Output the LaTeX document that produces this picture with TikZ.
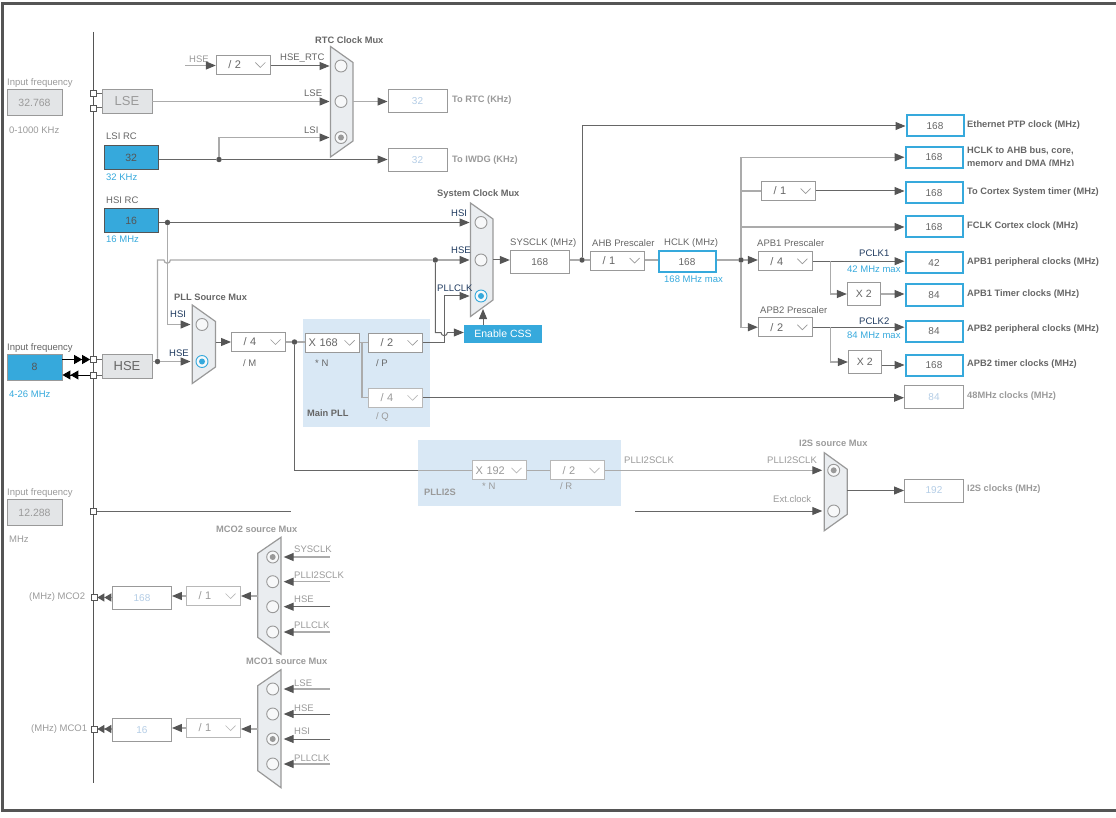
\documentclass[tikz,border=0pt]{standalone}
\usepackage{fontspec}
\setmainfont{Liberation Sans}
\usetikzlibrary{arrows.meta}

\definecolor{wiredark}{HTML}{666666}
\definecolor{wirelight}{HTML}{ABABAB}
\definecolor{tipgray}{HTML}{555555}
\definecolor{boxgray}{HTML}{999999}
\definecolor{muxfill}{HTML}{EAEDF0}
\definecolor{greyfill}{HTML}{E3E5E7}
\definecolor{clkblue}{HTML}{36A9DC}
\definecolor{pllblue}{HTML}{D9E8F5}
\definecolor{offtext}{HTML}{B4CDE6}
\definecolor{lbltext}{HTML}{666666}
\definecolor{dimtext}{HTML}{9A9A9A}
\definecolor{navytext}{HTML}{1F3A5F}

\tikzset{
  wire/.style={draw=wiredark,line width=1pt},
  wirelt/.style={draw=wirelight,line width=1.3pt},
  tip/.style={-{Triangle[length=10pt,width=8pt,color=tipgray]}},
  tiptwo/.style={-{Triangle[length=7pt,width=8pt,color=tipgray]Triangle[length=7pt,width=8pt,color=tipgray]}},
  tipblack/.style={-{Triangle[length=8pt,width=9pt,color=black]Triangle[length=8pt,width=9pt,color=black]}},
  dot/.style={circle,fill=tipgray,inner sep=0pt,minimum size=5.5pt},
  pin/.style={draw=tipgray,fill=white,inner sep=0pt,minimum size=6pt,line width=.7pt},
  lbl/.style={anchor=west,inner sep=0pt,yshift=-1pt,font=\fontsize{9.5}{11}\selectfont,text=lbltext},
  dimlbl/.style={lbl,text=dimtext},
  navylbl/.style={lbl,text=navytext},
  bluelbl/.style={lbl,text=clkblue},
  title/.style={lbl,font=\fontsize{9.3}{11}\bfseries\selectfont,text=lbltext},
  dimtitle/.style={title,text=dimtext},
  valbox/.style={draw=boxgray,fill=white,inner sep=0pt,minimum width=59pt,minimum height=23pt,line width=.9pt,font=\fontsize{10}{12}\selectfont,text=lbltext},
  outbox/.style={valbox,draw=clkblue,line width=2pt,minimum width=57pt,minimum height=21pt},
  offbox/.style={valbox,text=offtext},
  inbox/.style={draw=boxgray,fill=greyfill,inner sep=0pt,minimum width=55pt,minimum height=26pt,line width=.9pt,font=\fontsize{10.5}{12}\selectfont,text=dimtext},
  rcbox/.style={draw=tipgray,fill=clkblue,inner sep=0pt,minimum width=54pt,minimum height=24pt,line width=.9pt,font=\fontsize{10.5}{12}\selectfont,text=tipgray},
  srcbox/.style={draw=boxgray,fill=greyfill,inner sep=0pt,minimum width=50pt,minimum height=24pt,line width=.9pt,font=\fontsize{13}{14}\selectfont},
  chev/.style={draw=#1,line width=.9pt,fill=white,inner xsep=3pt,inner ysep=0pt,minimum width=54pt,minimum height=19pt,text width=48pt,align=left,
    font=\fontsize{11}{12}\selectfont,
    path picture={\draw[#1,line width=.7pt] ([xshift=-15pt,yshift=2.5pt]path picture bounding box.east) -- ([xshift=-10pt,yshift=-2.5pt]path picture bounding box.east) -- ([xshift=-5pt,yshift=2.5pt]path picture bounding box.east);}},
  divbox/.style={chev=boxgray,text=lbltext,execute at begin node=\hspace*{9pt}},
  divoff/.style={chev=boxgray!70,text=dimtext,execute at begin node=\hspace*{9pt}},
  mulbox/.style={chev=boxgray,text=lbltext},
  muloff/.style={chev=boxgray!70,text=dimtext},
  xbox/.style={draw=boxgray,fill=white,inner sep=0pt,minimum width=33pt,minimum height=22.5pt,line width=.9pt,font=\fontsize{10.5}{12}\selectfont,text=lbltext},
  muxbody/.style={draw=boxgray,fill=muxfill,line width=1.2pt},
  radio/.style={circle,draw=boxgray,fill=white!60!muxfill,inner sep=0pt,minimum size=12pt,line width=.9pt},
  radioon/.style={radio,draw=#1,path picture={\fill[#1] (path picture bounding box.center) circle (3pt);}},
  muxin/.style={tip,shorten >=5pt},
  muxinr/.style={tip,shorten >=4.5pt}
}

\begin{document}
\begin{tikzpicture}[x=1pt,y=-1pt]
\useasboundingbox (0,0) rectangle (1116,818);
\draw[tipgray,line width=3pt] (1116,4) -- (2,4) -- (2,810) -- (1116,810);
\draw[tipgray,line width=1pt] (93.5,32) -- (93.5,783);

% PLL backgrounds
\node[fill=pllblue,minimum width=127.5pt,minimum height=108pt,inner sep=0pt] (mainpllbg) at (366.25,373) {};
\node[fill=pllblue,minimum width=202.5pt,minimum height=65.5pt,inner sep=0pt] (plli2sbg) at (519.25,472.75) {};

% mux bodies
\draw[muxbody] (330.5,46.5) -- (353,62.5) -- (353,141) -- (330.5,157) -- cycle;
\draw[muxbody] (470.5,203) -- (493,219) -- (493,300) -- (470.5,316.5) -- cycle;
\draw[muxbody] (192.3,305) -- (215.5,321.5) -- (215.5,367) -- (192.3,383.5) -- cycle;
\draw[muxbody] (824.3,452.7) -- (847.3,469.3) -- (847.3,514.3) -- (824.3,530.7) -- cycle;
\draw[muxbody] (281,537.3) -- (257.7,553.3) -- (257.7,637.3) -- (281,654.3) -- cycle;
\draw[muxbody] (281,669.7) -- (257.7,685.7) -- (257.7,770.7) -- (281,787.7) -- cycle;

% radio buttons
\node[radio] (rtca) at (341,66) {};
\node[radio] (rtcb) at (341,101.5) {};
\node[radioon=boxgray] (rtcc) at (341,137.5) {};
\node[radio] (sysa) at (481,222.5) {};
\node[radio] (sysb) at (481,260) {};
\node[radioon=clkblue] (sysc) at (481,296) {};
\node[radio] (srca) at (202,324.5) {};
\node[radioon=clkblue] (srcb) at (202,361.5) {};
\node[radioon=boxgray] (itsa) at (833.7,470.3) {};
\node[radio] (itsb) at (833.7,511) {};
\node[radioon=boxgray] (mcotwoa) at (272.7,557) {};
\node[radio] (mcotwob) at (272.7,581.7) {};
\node[radio] (mcotwoc) at (272.7,606.7) {};
\node[radio] (mcotwod) at (272.7,632) {};
\node[radio] (mcoonea) at (272.7,689) {};
\node[radio] (mcooneb) at (272.7,714) {};
\node[radioon=boxgray] (mcoonec) at (272.7,739) {};
\node[radio] (mcooned) at (272.7,764) {};

% sources on the left
\node[dimlbl] (lsefreq) at (7,82) {Input frequency};
\node[inbox] (lseval) at (34.5,102.5) {32.768};
\node[dimlbl] (lserange) at (9,129) {0-1000 KHz};
\node[srcbox,text=dimtext] (lse) at (127,101) {LSE};
\node[pin] (pinlsea) at (93.5,93.5) {};
\node[pin] (pinlseb) at (93.5,108) {};
\node[lbl] (lsiname) at (106,135.5) {LSI RC};
\node[rcbox] (lsi) at (131.25,157.5) {32};
\node[bluelbl] (lsimax) at (106,176.5) {32 KHz};
\node[lbl] (hsiname) at (106,199) {HSI RC};
\node[rcbox] (hsi) at (131.25,220.5) {16};
\node[bluelbl] (hsimax) at (106,238.5) {16 MHz};
\node[lbl] (hsefreq) at (7,347) {Input frequency};
\node[inbox,fill=clkblue,text=tipgray] (hseval) at (34.5,367) {8};
\node[bluelbl] (hserange) at (9,393.5) {4-26 MHz};
\node[srcbox,text=lbltext] (hse) at (127,366.25) {HSE};
\node[pin] (pinhsea) at (93.5,359.5) {};
\node[pin] (pinhseb) at (93.5,375) {};
\node[dimlbl] (extfreq) at (7,492) {Input frequency};
\node[inbox] (extval) at (34.5,512.5) {12.288};
\node[dimlbl] (extunit) at (9,538) {MHz};
\node[pin] (pinext) at (93.5,511) {};
\coordinate (extend) at (291,511);

% RTC and IWDG
\node[title] (rtctitle) at (315,39.5) {RTC Clock Mux};
\coordinate (hsertc) at (185,65.5);
\node[dimlbl] (hsertctxt) at (189,58.5) {HSE};
\node[divbox] (rtcdiv) at (243.25,65) {/ 2};
\node[lbl] (hsertcname) at (280,57.5) {HSE\_RTC};
\node[lbl] (lsetxt) at (304,92.5) {LSE};
\node[lbl] (lsitxt) at (304,129.5) {LSI};
\coordinate (rtcout) at (353,101.5);
\node[offbox] (rtcval) at (417.5,101) {32};
\node[dimtitle] (rtcname) at (452,99) {To RTC (KHz)};
\node[offbox] (iwdgval) at (417.5,160) {32};
\node[dimtitle] (iwdgname) at (452,159) {To IWDG (KHz)};
\node[dot] (jlsi) at (219,159.5) {};

% PLL source and main PLL
\node[title] (srctitle) at (174,296.5) {PLL Source Mux};
\node[navylbl] (srchsi) at (170,313.5) {HSI};
\node[navylbl] (srchse) at (169,352.5) {HSE};
\node[dot] (jhsi) at (167.5,222.5) {};
\node[dot] (jhse) at (157.5,361.5) {};
\coordinate (srcout) at (215.5,342);
\node[divbox] (mdiv) at (258.5,342) {/ 4};
\node[lbl] (mname) at (243,362.5) {/ M};
\node[dot] (jm) at (294.5,342) {};
\node[mulbox] (nmul) at (332.5,342.75) {X 168};
\node[lbl] (nname) at (315,362.5) {* N};
\node[divbox] (pdiv) at (395.5,342.75) {/ 2};
\node[lbl] (pname) at (376,362.5) {/ P};
\node[divoff] (qdiv) at (395.5,397.75) {/ 4};
\node[dimlbl] (qname) at (376,415.5) {/ Q};
\node[title] (mainpllname) at (307,412.5) {Main PLL};
\coordinate (njoin) at (362,342.75);

% system clock
\node[title] (systitle) at (437,193.5) {System Clock Mux};
\node[navylbl] (syshsi) at (451,212.5) {HSI};
\node[navylbl] (syshse) at (451,249.5) {HSE};
\node[navylbl] (syspll) at (437,287.5) {PLLCLK};
\node[dot] (jcss) at (435.3,260) {};
\node[fill=clkblue,text=white,inner sep=0pt,minimum width=78pt,minimum height=18pt,font=\fontsize{10.5}{12}\selectfont] (css) at (503,334) {Enable CSS};
\coordinate (sysout) at (493,260);
\coordinate (cssup) at (483,309);
\node[lbl] (sysname) at (510,242.5) {SYSCLK (MHz)};
\node[valbox] (sysclk) at (539.75,262) {168};
\node[lbl] (ahbname) at (592,242.5) {AHB Prescaler};
\node[divbox] (ahb) at (617.5,260.5) {/ 1};
\node[lbl] (hclkname) at (664,242.5) {HCLK (MHz)};
\node[outbox] (hclk) at (687,262) {168};
\node[bluelbl] (hclkmax) at (664,278.5) {168 MHz max};
\node[dot] (jsys) at (582,260) {};
\node[dot] (jhclk) at (741,260) {};

% outputs on the right
\node[outbox] (eth) at (935,126) {168};
\node[title] (ethname) at (967,124.5) {Ethernet PTP clock (MHz)};
\node[outbox] (ahbout) at (934,157.25) {168};
\begin{scope}
\clip (965,143) rectangle (1100,165.5);
\node[title,align=left,yshift=.5pt] (ahboutname) at (967,157) {HCLK to AHB bus, core,\\[1.5pt]memory and DMA (MHz)};
\end{scope}
\node[divbox] (cortexdiv) at (788.5,191) {/ 1};
\node[outbox] (cortex) at (934,193) {168};
\node[title] (cortexname) at (967,191.5) {To Cortex System timer (MHz)};
\node[outbox] (fclk) at (934,227) {168};
\node[title] (fclkname) at (967,225.5) {FCLK Cortex clock (MHz)};
\node[lbl] (apbonename) at (757,242.5) {APB1 Prescaler};
\node[divbox] (apbone) at (785.3,261.2) {/ 4};
\node[navylbl] (pclkone) at (859,252.5) {PCLK1};
\node[bluelbl] (pclkonemax) at (847,268.5) {42 MHz max};
\node[outbox] (apboneper) at (934,263) {42};
\node[title] (apbonepername) at (967,261.5) {APB1 peripheral clocks (MHz)};
\node[xbox] (xone) at (863.8,294) {X 2};
\node[outbox] (apbonetim) at (934,295) {84};
\node[title] (apbonetimname) at (967,293.5) {APB1 Timer clocks (MHz)};
\node[lbl] (apbtwoname) at (760,309.5) {APB2 Prescaler};
\node[divbox] (apbtwo) at (785.3,327.2) {/ 2};
\node[navylbl] (pclktwo) at (859,320.5) {PCLK2};
\node[bluelbl] (pclktwomax) at (847,334.5) {84 MHz max};
\node[outbox] (apbtwoper) at (934,331) {84};
\node[title] (apbtwopername) at (967,328.5) {APB2 peripheral clocks (MHz)};
\node[xbox] (xtwo) at (864.8,362) {X 2};
\node[outbox] (apbtwotim) at (934,365) {168};
\node[title] (apbtwotimname) at (967,363.5) {APB2 timer clocks (MHz)};
\node[offbox] (usb) at (934,397) {84};
\node[dimtitle] (usbname) at (967,395.5) {48MHz clocks (MHz)};

% PLLI2S and I2S mux
\node[muloff] (itsn) at (499.5,470.3) {X 192};
\node[dimlbl] (itsnname) at (482,485.5) {* N};
\node[divoff] (itsr) at (577.5,470.3) {/ 2};
\node[dimlbl] (itsrname) at (560,485) {/ R};
\node[dimtitle] (plli2sname) at (424,491) {PLLI2S};
\node[dimlbl] (itsclk) at (624,459.5) {PLLI2SCLK};
\node[dimtitle] (itstitle) at (799,442.5) {I2S source Mux};
\node[dimlbl] (itsclkb) at (767,459.5) {PLLI2SCLK};
\node[dimlbl] (extclk) at (773,498.5) {Ext.clock};
\coordinate (extin) at (635,511);
\coordinate (itsout) at (847.3,490.5);
\node[offbox] (itsval) at (934,490.5) {192};
\node[dimtitle] (itsname) at (967,488) {I2S clocks (MHz)};

% MCO2
\node[dimtitle] (mcotwotitle) at (216,528.5) {MCO2 source Mux};
\foreach \nm/\tx/\ya/\yb in {twoa/SYSCLK/557/548.5,twob/PLLI2SCLK/581.7/574.5,twoc/HSE/606.7/598.5,twod/PLLCLK/632/624.5,
    onea/LSE/689/682.5,oneb/HSE/714/707.5,onec/HSI/739/730.5,oned/PLLCLK/764/757.5}
  {\node[dimlbl] (txt\nm) at (294,\yb) {\tx};
   \coordinate (in\nm) at (330,\ya);}
\coordinate (mcotwoout) at (257.7,596);
\node[divoff] (mcotwodiv) at (213.5,596) {/ 1};
\node[offbox] (mcotwoval) at (142,597.8) {168};
\node[pin] (pinmcotwo) at (94,597.5) {};
\node[dimlbl] (mcotwoname) at (29,596.5) {(MHz) MCO2};

% MCO1
\node[dimtitle] (mcoonetitle) at (246,660.5) {MCO1 source Mux};
\coordinate (mcooneout) at (257.7,729);
\node[divoff] (mcoonediv) at (213.5,728) {/ 1};
\node[offbox] (mcooneval) at (142,729.8) {16};
\node[pin] (pinmcoone) at (94,729) {};
\node[dimlbl] (mcoonename) at (31,728.5) {(MHz) MCO1};

% clock inputs
\draw[wire,tipblack,draw=black] (hseval.east |- pinhsea) -- (pinhsea);
\draw[wire,tipblack,draw=black] (pinhseb) -- (hseval.east |- pinhseb);
\draw[wire] (pinlsea) -- (pinlsea -| lse.west);
\draw[wire] (pinlseb) -- (pinlseb -| lse.west);
\draw[wire] (pinhsea) -- (pinhsea -| hse.west);
\draw[wire] (pinhseb) -- (pinhseb -| hse.west);
\draw[wire] (pinext) -- (extend);

% RTC wires
\draw[wirelt,tip] (hsertc) -- (rtcdiv.west |- hsertc);
\draw[wire,muxin] (rtcdiv.east |- rtca) -- (rtca);
\draw[wirelt,muxin] (lse.east |- rtcb) -- (rtcb);
\draw[wirelt,muxin] (jlsi) |- (rtcc);
\draw[wire,tip] (lsi.east |- jlsi) -- (jlsi) -- (iwdgval.west |- jlsi);
\draw[wirelt,tip] (rtcout) -- (rtcval.west |- rtcout);

% HSI and HSE distribution
\draw[wire,muxin] (hsi.east |- jhsi) -- (jhsi) -- (sysa);
\draw[wirelt,muxin] (jhsi) |- (srca);
\draw[wirelt,muxin] (hse.east |- srcb) -- (jhse) -- (srcb);
\draw[wirelt] (jhse) -- (157.5,260) -- (164,260) arc[start angle=180,end angle=0,radius=3.2] -- (jcss);
\draw[wirelt,muxin] (jcss) -- (sysb);
\draw[wire] (jcss) -- (435.3,332.5) -- (441,332.5) arc[start angle=180,end angle=0,radius=3.2];
\draw[wire,tip] (447.4,332.5) -- (css.west |- 447.4,332.5);
\draw[wire,tip] (css.north -| cssup) -- (cssup);

% main PLL wires
\draw[wire,tip] (srcout) -- (mdiv.west |- srcout);
\draw[wirelt] (mdiv.east |- jm) -- (jm) -- (nmul.west |- jm);
\draw[wirelt] (nmul) -- (pdiv);
\draw[wirelt] (njoin) |- (qdiv.west);
\draw[wire] (pdiv.east) -- (444.5,342.75);
\draw[wire,muxin] (444.5,342.75) |- (sysc);
\draw[wire] (jm) |- (plli2sbg.west |- itsn);
\draw[wirelt] (plli2sbg.west |- itsn) -- (itsn);
\draw[wire,tip] (qdiv) -- (usb.west |- qdiv);

% system clock wires
\draw[wire,tip] (sysout) -- (sysclk.west |- sysout);
\draw[wirelt] (sysclk.east |- jsys) -- (jsys) -- (ahb.west |- jsys);
\draw[wire,tip] (jsys) |- (eth.west);
\draw[wirelt] (ahb.east |- jhclk) -- (hclk.west |- jhclk);
\draw[wirelt] (hclk.east |- jhclk) -- (jhclk);
\draw[wirelt,tip] (jhclk) -- (apbone.west |- jhclk);
\draw[wirelt,tip] (jhclk) |- (ahbout.west);
\draw[wirelt] (jhclk) |- (cortexdiv.west);
\draw[wire,tip] (cortexdiv.east) -- (cortex.west |- cortexdiv);
\draw[wirelt,tip] (jhclk) |- (fclk.west);
\draw[wirelt,tip] (jhclk) |- (apbtwo.west);

% APB wires
\draw[wire,tip] (apbone) -- (apboneper.west |- apbone);
\draw[wirelt,tip] (830.5,261.2) |- (xone.west);
\draw[wirelt,tip] (xone) -- (apbonetim.west |- xone);
\draw[wire,tip] (apbtwo) -- (apbtwoper.west |- apbtwo);
\draw[wirelt,tip] (830.5,327.2) |- (xtwo.west);
\draw[wire,tip] (xtwo.east |- apbtwotim) -- (apbtwotim.west);

% I2S wires
\draw[wirelt] (itsn) -- (itsr);
\draw[wirelt,muxin] (itsr) -- (itsa);
\draw[wire,muxin] (extin) -- (itsb);
\draw[wire,tip] (itsout) -- (itsval.west);

% MCO wires
\foreach \nm/\cl in {twoa/wirelt,twob/wirelt,twoc/wire,twod/wirelt}
  \draw[\cl,muxinr] (in\nm) -- (mco\nm);
\foreach \nm/\cl in {onea/wirelt,oneb/wire,onec/wire,oned/wirelt}
  \draw[\cl,muxinr] (in\nm) -- (mco\nm);
\draw[wirelt,tip] (mcotwoout) -- (mcotwodiv.east);
\draw[wirelt,tip] (mcotwodiv.west) -- (mcotwoval.east |- mcotwodiv);
\draw[wirelt,tiptwo] (mcotwoval.west |- pinmcotwo) -- (pinmcotwo);
\draw[wirelt,tip] (mcooneout) -- (mcoonediv.east |- mcooneout);
\draw[wirelt,tip] (mcoonediv.west) -- (mcooneval.east |- mcoonediv);
\draw[wirelt,tiptwo] (mcooneval.west |- pinmcoone) -- (pinmcoone);
\end{tikzpicture}
\end{document}
